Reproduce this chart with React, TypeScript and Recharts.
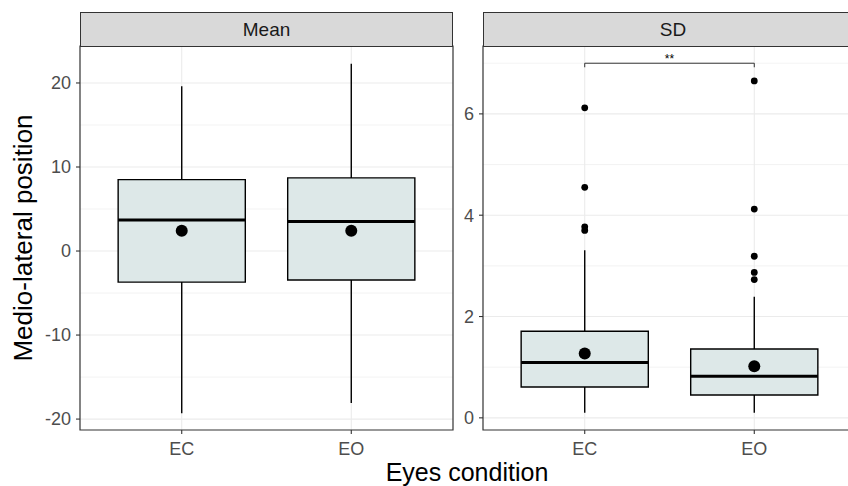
import React from "react";
import {
  ComposedChart,
  XAxis,
  YAxis,
  CartesianGrid,
  Scatter,
  ReferenceArea,
  ReferenceLine,
  ReferenceDot,
} from "recharts";

const conditions = ["EC", "EO"];
const panelTitles = ["Mean", "SD"];
const xTitle = "Eyes condition";
const yTitle = "Medio-lateral position";

// Mean panel box statistics
const meanLow = [-19.3, -18.1];
const meanQ1 = [-3.7, -3.45];
const meanMedian = [3.7, 3.5];
const meanQ3 = [8.5, 8.7];
const meanHigh = [19.6, 22.3];
const meanAvg = [2.4, 2.4];
const meanTicks = [-20, -10, 0, 10, 20];
const meanMinor = [-15, -5, 5, 15];
const meanDomain = [-21.3, 24.4];

// SD panel box statistics
const sdLow = [0.1, 0.1];
const sdQ1 = [0.61, 0.45];
const sdMedian = [1.09, 0.82];
const sdQ3 = [1.71, 1.36];
const sdHigh = [3.31, 2.39];
const sdAvg = [1.27, 1.02];
const sdOutliersEC = [6.12, 4.55, 3.77, 3.7];
const sdOutliersEO = [6.65, 4.12, 3.19, 2.87, 2.73];
const sdTicks = [0, 2, 4, 6];
const sdMinor = [1, 3, 5, 7];
const sdDomain = [-0.24, 7.34];

// significance annotation (SD panel)
const sigY = 7.0;
const sigTickY = 6.92;
const sigLabel = "**";

const FONT = "'Liberation Sans', Arial, sans-serif";

function Panel(props: any) {
  const {
    width,
    yWidth,
    marginRight,
    domain,
    ticks,
    minor,
    low,
    q1,
    med,
    q3,
    high,
    avg,
    outliers,
    sig,
  } = props;
  const xs = conditions.map((_, i) => i + 1);
  const meanPts = xs.map((x, i) => ({ x, y: avg[i] }));
  const outPts: { x: number; y: number }[] = [];
  if (outliers) {
    outliers.forEach((arr: number[], i: number) =>
      arr.forEach((y) => outPts.push({ x: i + 1, y }))
    );
  }
  const tickStyle = { fill: "#4D4D4D", fontSize: 18, fontFamily: FONT };
  return (
    <ComposedChart
      width={width}
      height={486}
      margin={{ top: 46, right: marginRight, bottom: 26, left: 0 }}
      data={meanPts}
    >
      <CartesianGrid
        horizontalValues={minor}
        vertical={false}
        stroke="#EBEBEB"
        strokeWidth={0.6}
      />
      <CartesianGrid
        horizontalValues={ticks}
        verticalValues={xs}
        stroke="#EBEBEB"
        strokeWidth={1.1}
      />
      <XAxis
        type="number"
        dataKey="x"
        domain={[0.4, 2.6]}
        ticks={xs}
        allowDataOverflow
        tickFormatter={(v: number) => conditions[v - 1]}
        axisLine={false}
        tickLine={{ stroke: "#333333", strokeWidth: 1.1 }}
        tickSize={4}
        tickMargin={8}
        height={30}
        tick={tickStyle}
      />
      <YAxis
        type="number"
        dataKey="y"
        domain={domain}
        ticks={ticks}
        allowDataOverflow
        axisLine={false}
        tickLine={{ stroke: "#333333", strokeWidth: 1.1 }}
        tickSize={4}
        tickMargin={5}
        width={yWidth}
        tick={tickStyle}
      />
      <ReferenceArea
        x1={0.4}
        x2={2.6}
        y1={domain[0]}
        y2={domain[1]}
        fill="none"
        fillOpacity={0}
        stroke="#333333"
        strokeWidth={1.2}
        ifOverflow="visible"
      />
      {xs.map((x, i) => (
        <React.Fragment key={i}>
          <ReferenceLine
            segment={[
              { x, y: low[i] },
              { x, y: q1[i] },
            ]}
            stroke="#000"
            strokeWidth={1.4}
          />
          <ReferenceLine
            segment={[
              { x, y: q3[i] },
              { x, y: high[i] },
            ]}
            stroke="#000"
            strokeWidth={1.4}
          />
          <ReferenceArea
            x1={x - 0.375}
            x2={x + 0.375}
            y1={q1[i]}
            y2={q3[i]}
            fill="#DDE8E8"
            fillOpacity={1}
            stroke="#000"
            strokeWidth={1.4}
          />
          <ReferenceLine
            segment={[
              { x: x - 0.375, y: med[i] },
              { x: x + 0.375, y: med[i] },
            ]}
            stroke="#000"
            strokeWidth={3}
          />
        </React.Fragment>
      ))}
      {sig ? (
        <>
          <ReferenceLine
            segment={[
              { x: 1, y: sigY },
              { x: 2, y: sigY },
            ]}
            stroke="#333"
            strokeWidth={1}
          />
          <ReferenceLine
            segment={[
              { x: 1, y: sigY },
              { x: 1, y: sigTickY },
            ]}
            stroke="#333"
            strokeWidth={1}
          />
          <ReferenceLine
            segment={[
              { x: 2, y: sigY },
              { x: 2, y: sigTickY },
            ]}
            stroke="#333"
            strokeWidth={1}
          />
          <ReferenceDot
            x={1.5}
            y={sigY}
            r={0}
            fill="none"
            stroke="none"
            label={{
              value: sigLabel,
              position: "top",
              offset: 0,
              fontSize: 12,
              fill: "#000",
              fontFamily: FONT,
            }}
          />
        </>
      ) : null}
      {outPts.length > 0 ? (
        <Scatter
          data={outPts}
          dataKey="y"
          isAnimationActive={false}
          shape={(p: any) => <circle cx={p.cx} cy={p.cy} r={3.4} fill="#000" />}
        />
      ) : null}
      <Scatter
        data={meanPts}
        dataKey="y"
        isAnimationActive={false}
        shape={(p: any) => <circle cx={p.cx} cy={p.cy} r={6} fill="#000" />}
      />
    </ComposedChart>
  );
}

const stripStyle = (left: number, width: number): React.CSSProperties => ({
  position: "absolute",
  left,
  top: 12,
  width,
  height: 35,
  boxSizing: "border-box",
  background: "#D9D9D9",
  border: "1.2px solid #333333",
  color: "#1A1A1A",
  fontFamily: FONT,
  fontSize: 19,
  display: "flex",
  alignItems: "center",
  justifyContent: "center",
});

export default function App() {
  return (
    <div
      style={{
        position: "absolute",
        left: 0,
        top: 0,
        width: 848,
        height: 486,
        overflow: "hidden",
        background: "#fff",
      }}
    >
      <div style={{ position: "absolute", left: 0, top: 0 }}>
        <Panel
          width={460}
          yWidth={80}
          marginRight={7}
          domain={meanDomain}
          ticks={meanTicks}
          minor={meanMinor}
          low={meanLow}
          q1={meanQ1}
          med={meanMedian}
          q3={meanQ3}
          high={meanHigh}
          avg={meanAvg}
        />
      </div>
      <div style={{ position: "absolute", left: 453, top: 0 }}>
        <Panel
          width={403}
          yWidth={30}
          marginRight={0}
          domain={sdDomain}
          ticks={sdTicks}
          minor={sdMinor}
          low={sdLow}
          q1={sdQ1}
          med={sdMedian}
          q3={sdQ3}
          high={sdHigh}
          avg={sdAvg}
          outliers={[sdOutliersEC, sdOutliersEO]}
          sig
        />
      </div>
      <div style={stripStyle(80, 373)}>{panelTitles[0]}</div>
      <div style={stripStyle(483, 380)}>{panelTitles[1]}</div>
      <svg
        width={848}
        height={486}
        style={{ position: "absolute", left: 0, top: 0, pointerEvents: "none" }}
      >
        <text
          transform="translate(32,238) rotate(-90)"
          textAnchor="middle"
          fontSize={26}
          fontFamily={FONT}
          fill="#000"
        >
          {yTitle}
        </text>
        <text
          x={467}
          y={481}
          textAnchor="middle"
          fontSize={25}
          fontFamily={FONT}
          fill="#000"
        >
          {xTitle}
        </text>
      </svg>
    </div>
  );
}
